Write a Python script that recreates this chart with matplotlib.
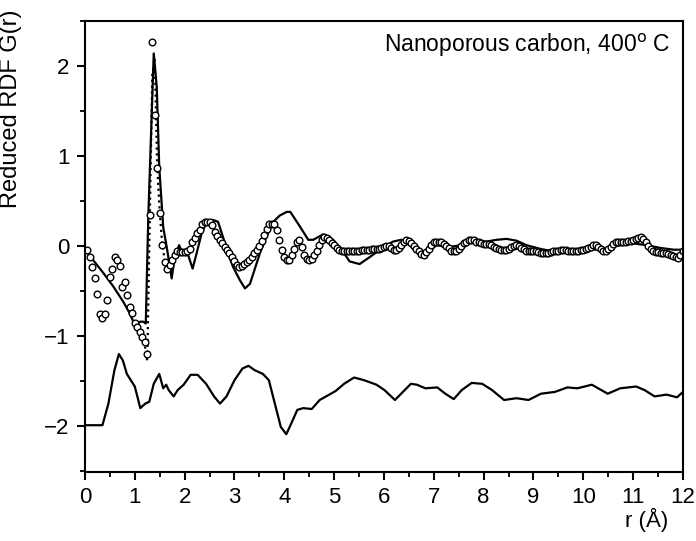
import numpy as np
import matplotlib.pyplot as plt
from matplotlib.ticker import MultipleLocator

plt.rcParams['font.family'] = ['Liberation Sans', 'DejaVu Sans']

# Эксперимент (кружки), шаг 0.05 Å, от 0.05 до 12.00
circle_g = [
    -0.04, -0.12, -0.23, -0.36, -0.53, -0.75, -0.80, -0.75, -0.60, -0.34, -0.25, -0.12, -0.16, -0.22, -0.46, -0.40, -0.54, -0.68, -0.74, -0.86,
    -0.90, -0.95, -1.01, -1.06, -1.20, 0.34, 2.27, 1.46, 0.87, 0.37, 0.01, -0.18, -0.26, -0.21, -0.15, -0.10, -0.06, -0.07, -0.07, -0.07,
    -0.05, -0.03, 0.04, 0.09, 0.14, 0.18, 0.24, 0.27, 0.27, 0.27, 0.23, 0.16, 0.11, 0.07, 0.03, -0.01, -0.04, -0.08, -0.12, -0.17,
    -0.21, -0.23, -0.22, -0.20, -0.18, -0.15, -0.12, -0.08, -0.04, 0.00, 0.06, 0.12, 0.19, 0.25, 0.25, 0.25, 0.18, 0.07, -0.04, -0.12,
    -0.16, -0.16, -0.10, -0.03, 0.05, 0.07, -0.01, -0.10, -0.14, -0.16, -0.14, -0.10, -0.05, 0.01, 0.07, 0.10, 0.09, 0.07, 0.03, 0.01,
    -0.02, -0.04, -0.05, -0.06, -0.06, -0.06, -0.06, -0.06, -0.05, -0.05, -0.04, -0.04, -0.04, -0.04, -0.03, -0.03, -0.03, -0.03, -0.02, -0.01,
    0.00, 0.00, -0.02, -0.04, -0.04, -0.02, 0.01, 0.05, 0.07, 0.06, 0.03, 0.00, -0.03, -0.06, -0.09, -0.10, -0.07, -0.03, 0.01, 0.04,
    0.05, 0.05, 0.04, 0.02, 0.00, -0.02, -0.05, -0.06, -0.05, -0.03, 0.00, 0.03, 0.05, 0.07, 0.07, 0.07, 0.05, 0.04, 0.03, 0.02,
    0.02, 0.02, 0.01, -0.01, -0.02, -0.03, -0.04, -0.04, -0.04, -0.03, -0.01, 0.00, 0.01, 0.00, -0.02, -0.03, -0.05, -0.06, -0.06, -0.06,
    -0.06, -0.07, -0.08, -0.08, -0.08, -0.08, -0.07, -0.06, -0.06, -0.05, -0.04, -0.04, -0.04, -0.05, -0.05, -0.06, -0.06, -0.05, -0.04, -0.04,
    -0.03, -0.02, -0.01, 0.01, 0.01, -0.01, -0.03, -0.05, -0.05, -0.03, -0.01, 0.02, 0.04, 0.05, 0.05, 0.05, 0.05, 0.06, 0.06, 0.07,
    0.08, 0.09, 0.10, 0.08, 0.04, 0.00, -0.03, -0.05, -0.07, -0.07, -0.08, -0.08, -0.08, -0.09, -0.10, -0.11, -0.12, -0.13, -0.10, -0.06,
]
circle_r = np.arange(1, len(circle_g) + 1) * 0.05

# Пунктир около первого пика
dot_r = [1.00, 1.05, 1.10, 1.15, 1.20, 1.25, 1.30, 1.35, 1.40, 1.45, 1.50, 1.55, 1.60, 1.65, 1.70]
dot_g = [-0.88, -0.93, -0.98, -1.04, -1.10, -1.28, 0.30, 1.90, 2.08, 0.88, 0.38, 0.02, -0.15, -0.24, -0.22]

# Модель (сплошная линия)
model_r = [0.00, 0.17, 0.37, 0.57, 0.77, 0.90, 0.97, 1.04, 1.10, 1.17, 1.22, 1.27, 1.38, 1.44, 1.49, 1.57,
           1.64, 1.74, 1.80, 1.89, 1.97, 2.07, 2.16, 2.24, 2.34, 2.44, 2.57, 2.67, 2.77, 2.87, 2.97, 3.11,
           3.21, 3.31, 3.41, 3.51, 3.64, 3.78, 3.91, 4.05, 4.12, 4.31, 4.48, 4.58, 4.78, 4.98, 5.15, 5.31,
           5.51, 5.72, 5.92, 6.18, 6.35, 6.52, 6.79, 7.06, 7.32, 7.53, 7.80, 8.06, 8.26, 8.46, 8.66, 8.86,
           9.13, 9.40, 9.67, 9.94, 10.20, 10.47, 10.74, 11.00, 11.27, 11.54, 11.81, 12.00]
model_g = [-0.04, -0.16, -0.30, -0.45, -0.62, -0.75, -0.84, -0.88, -0.84, -0.84, -0.86, 0.32, 2.14, 1.77, 0.88, 0.21,
           -0.01, -0.36, -0.12, 0.01, -0.10, -0.10, -0.25, -0.08, 0.14, 0.27, 0.29, 0.27, 0.10, -0.08, -0.23, -0.38,
           -0.47, -0.42, -0.25, -0.08, 0.10, 0.27, 0.34, 0.38, 0.38, 0.22, 0.07, 0.07, 0.13, 0.07, -0.04, -0.17,
           -0.20, -0.12, -0.04, 0.05, 0.07, 0.01, -0.10, 0.01, -0.01, 0.01, 0.05, 0.05, 0.07, 0.08, 0.06, 0.01,
           -0.03, -0.06, -0.06, -0.06, -0.04, -0.03, 0.01, 0.03, 0.01, -0.02, -0.04, -0.04]

# Разность (смещённая кривая внизу)
diff_r = [0.00, 0.35, 0.47, 0.59, 0.68, 0.76, 0.84, 1.00, 1.11, 1.21, 1.29, 1.38, 1.49, 1.57, 1.63, 1.68,
          1.78, 1.86, 1.98, 2.12, 2.26, 2.43, 2.59, 2.71, 2.84, 3.00, 3.16, 3.28, 3.41, 3.57, 3.69, 3.81,
          3.93, 4.04, 4.14, 4.26, 4.38, 4.55, 4.71, 4.87, 5.03, 5.20, 5.40, 5.60, 5.85, 6.01, 6.22, 6.38,
          6.54, 6.66, 6.83, 7.07, 7.23, 7.40, 7.56, 7.76, 7.97, 8.17, 8.41, 8.66, 8.90, 9.15, 9.43, 9.68,
          9.88, 10.17, 10.49, 10.74, 11.06, 11.23, 11.43, 11.67, 11.88, 12.00]
diff_g = [-1.99, -1.99, -1.75, -1.38, -1.20, -1.27, -1.42, -1.56, -1.80, -1.75, -1.73, -1.53, -1.42, -1.58, -1.54, -1.60,
          -1.67, -1.60, -1.54, -1.43, -1.43, -1.53, -1.67, -1.75, -1.67, -1.49, -1.36, -1.33, -1.38, -1.42, -1.49, -1.75,
          -2.01, -2.09, -1.97, -1.82, -1.80, -1.81, -1.71, -1.66, -1.61, -1.53, -1.46, -1.49, -1.54, -1.60, -1.71, -1.62,
          -1.53, -1.54, -1.58, -1.57, -1.64, -1.70, -1.60, -1.52, -1.53, -1.60, -1.71, -1.69, -1.71, -1.64, -1.62, -1.57,
          -1.58, -1.54, -1.64, -1.58, -1.56, -1.60, -1.67, -1.65, -1.68, -1.62]

fig = plt.figure(figsize=(6.96, 5.41), dpi=100)
ax = fig.add_axes([0.1221, 0.1275, 0.8592, 0.8336])

ax.plot(model_r, model_g, color='black', lw=1.6)
ax.plot(diff_r, diff_g, color='black', lw=1.6)
ax.plot(dot_r, dot_g, color='black', lw=1.6, ls=':')
ax.plot(circle_r, circle_g, ls='none', marker='o', ms=4.8, mfc='white', mec='black', mew=1.0)

ax.set_xlim(0, 12)
ax.set_ylim(-2.51, 2.5)
ax.xaxis.set_major_locator(MultipleLocator(1))
ax.xaxis.set_minor_locator(MultipleLocator(0.5))
ax.yaxis.set_major_locator(MultipleLocator(1))
ax.yaxis.set_minor_locator(MultipleLocator(0.5))
ax.tick_params(which='major', direction='out', length=6, width=1.5, labelsize=16, pad=5)
ax.tick_params(which='minor', direction='out', length=3.6, width=1.3)
for s in ax.spines.values():
    s.set_linewidth(1.5)

ax.set_ylabel('Reduced RDF G(r)', fontsize=17)
ax.yaxis.set_label_coords(-0.105, 0.805)
ax.set_xlabel('r (Å)', fontsize=16)
ax.xaxis.set_label_coords(0.94, -0.08)

ax.text(11.75, 2.23, 'Nanoporous carbon, 400$^{\\rm o}$ C', fontsize=16.5, ha='right', va='center')

fig.savefig('out.png', dpi=100)
